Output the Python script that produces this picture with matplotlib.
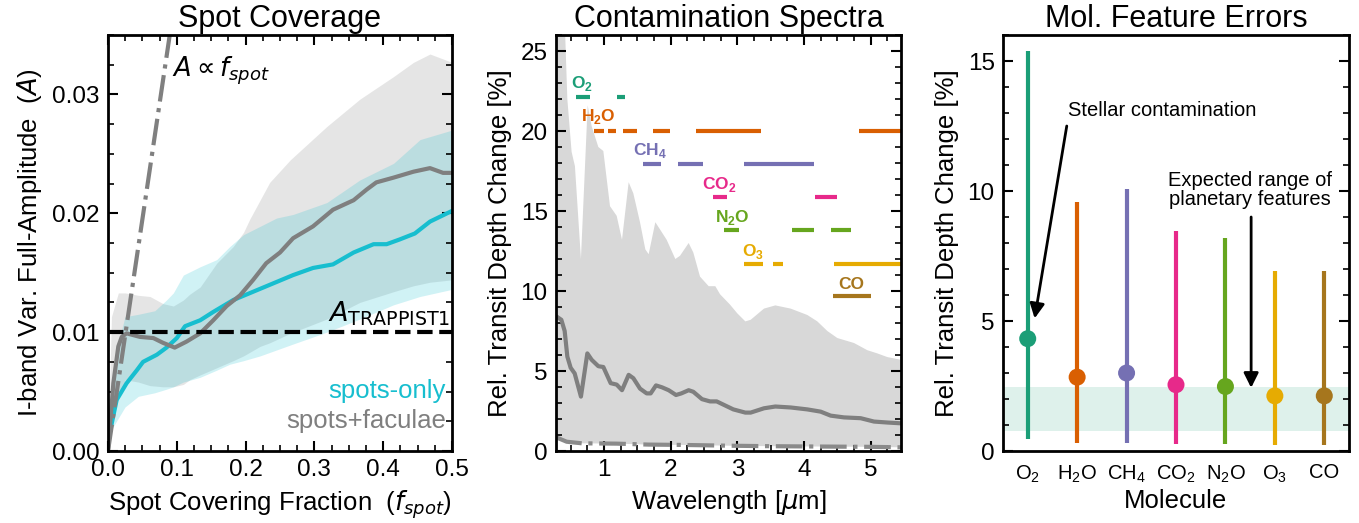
import numpy as np
import matplotlib
matplotlib.use("Agg")
import matplotlib.pyplot as plt
from matplotlib.ticker import MultipleLocator, FormatStrFormatter

plt.rcParams['font.family'] = ['Liberation Sans', 'DejaVu Sans']
plt.rcParams['mathtext.fontset'] = 'dejavusans'

# ---------------- Panel 1 data: Spot coverage ----------------
f_cyan = [0.005, 0.0126, 0.027, 0.042, 0.051, 0.071, 0.085, 0.1, 0.112, 0.134, 0.153,
          0.182, 0.211, 0.24, 0.269, 0.298, 0.327, 0.357, 0.386, 0.405, 0.424, 0.446,
          0.468, 0.5]
A_cyan = [0.0022, 0.0043, 0.0057, 0.0068, 0.0075, 0.0081, 0.0087, 0.0095, 0.0105, 0.011,
          0.0117, 0.0127, 0.0134, 0.0141, 0.0148, 0.0154, 0.0157, 0.0167, 0.0174, 0.0174,
          0.0178, 0.0183, 0.0193, 0.0202]

f_gray = [0.0, 0.0078, 0.015, 0.02, 0.027, 0.0465, 0.066, 0.08, 0.097, 0.114, 0.134, 0.153,
          0.1725, 0.192, 0.211, 0.23, 0.25, 0.269, 0.298, 0.327, 0.357, 0.376, 0.39,
          0.415, 0.444, 0.468, 0.487, 0.5]
A_gray = [0.0, 0.0057, 0.0088, 0.0096, 0.0099, 0.0096, 0.0095, 0.0091, 0.0087, 0.0092,
          0.0099, 0.011, 0.0122, 0.0131, 0.0144, 0.0158, 0.0167, 0.0179, 0.0189, 0.0203,
          0.0211, 0.022, 0.0226, 0.023, 0.0235, 0.0238, 0.0234, 0.0234]

f_cband = [0.005, 0.0102, 0.0247, 0.044, 0.068, 0.085, 0.095, 0.1095, 0.134, 0.158, 0.177,
           0.197, 0.221, 0.245, 0.269, 0.318, 0.366, 0.415, 0.4535, 0.5]
cband_hi = [0.0045, 0.008, 0.0113, 0.0115, 0.0118, 0.0127, 0.0133, 0.0148, 0.0155, 0.0161,
            0.0172, 0.0182, 0.0189, 0.0196, 0.0199, 0.0209, 0.0228, 0.0242, 0.0262, 0.027]
cband_lo = [0.0018, 0.0023, 0.0037, 0.0046, 0.0049, 0.0052, 0.0054, 0.0058, 0.0062, 0.0068,
            0.0073, 0.0076, 0.008, 0.0085, 0.009, 0.01, 0.0111, 0.0123, 0.013, 0.0136]

f_gband = [0.0, 0.005, 0.015, 0.025, 0.044, 0.061, 0.08, 0.095, 0.1095, 0.119, 0.134, 0.158,
           0.182, 0.197, 0.206, 0.221, 0.235, 0.265, 0.318, 0.366, 0.415, 0.444, 0.468, 0.5]
gband_hi = [0.0, 0.0113, 0.0133, 0.0133, 0.0131, 0.013, 0.0124, 0.0122, 0.0127, 0.0132,
            0.0138, 0.0158, 0.0172, 0.0184, 0.0195, 0.0211, 0.0226, 0.0245, 0.0273, 0.0296,
            0.0315, 0.0327, 0.0334, 0.0327]
gband_lo = [0.0, 0.002, 0.0045, 0.006, 0.0058, 0.0055, 0.0054, 0.0054, 0.0056, 0.006,
            0.0064, 0.007, 0.0076, 0.008, 0.0083, 0.0088, 0.0091, 0.0099, 0.0111, 0.0125,
            0.0134, 0.0139, 0.0142, 0.0144]

f_prop = [0.0, 0.1]
A_prop = [0.0, 0.039]
A_trappist = 0.01

# ---------------- Panel 2 data: Contamination spectra ----------------
lam_env = [0.28, 0.41, 0.45, 0.514, 0.564, 0.654, 0.755, 0.815, 0.915, 0.99, 1.09, 1.19,
           1.27, 1.37, 1.44, 1.54, 1.62, 1.67, 1.77, 1.84, 1.94, 2.07, 2.14, 2.27, 2.34,
           2.44, 2.57, 2.67, 2.74, 2.89, 3.0, 3.12, 3.2, 3.4, 3.57, 3.8, 4.05, 4.2, 4.35,
           4.5, 4.75, 4.95, 5.1, 5.25, 5.455]
env_hi = [45, 27, 22, 18.7, 17.8, 12.0, 21.6, 20.3, 19.0, 18.75, 15.3, 14.7, 13.2, 16.8,
          16.1, 14.3, 12.6, 12.3, 14.3, 13.85, 13.2, 12.0, 12.2, 13.0, 12.4, 10.9, 10.3,
          10.3, 9.8, 9.15, 8.6, 8.1, 8.2, 8.9, 9.1, 8.9, 8.5, 8.1, 7.5, 7.06, 6.75, 6.3,
          6.1, 5.87, 5.7]

lam_mean = [0.29, 0.36, 0.41, 0.45, 0.5, 0.56, 0.654, 0.75, 0.815, 0.915, 0.99, 1.1, 1.19,
            1.27, 1.37, 1.44, 1.54, 1.64, 1.7, 1.78, 1.87, 1.97, 2.08, 2.16, 2.27, 2.34,
            2.47, 2.59, 2.69, 2.79, 2.94, 3.12, 3.2, 3.4, 3.57, 3.8, 4.05, 4.25, 4.4, 4.6,
            4.85, 5.05, 5.25, 5.455]
spec_mean = [8.4, 8.2, 7.5, 5.9, 5.2, 4.85, 3.4, 6.1, 5.7, 5.3, 5.25, 4.24, 4.15, 3.8, 4.76,
             4.55, 3.9, 3.6, 3.6, 4.1, 3.98, 3.8, 3.5, 3.6, 3.8, 3.7, 3.24, 3.1, 3.1, 2.9,
             2.6, 2.4, 2.4, 2.67, 2.78, 2.72, 2.6, 2.46, 2.21, 2.1, 2.05, 1.84, 1.78, 1.73]

lam_low = [0.28, 0.44, 0.67, 1.19, 1.67, 2.17, 2.89, 3.5, 4.2, 5.0, 5.455]
spec_low = [0.86, 0.58, 0.48, 0.46, 0.4, 0.38, 0.33, 0.3, 0.28, 0.26, 0.23]

mol_labels = [r'O$_\mathregular{2}$', r'H$_\mathregular{2}$O', r'CH$_\mathregular{4}$',
              r'CO$_\mathregular{2}$', r'N$_\mathregular{2}$O', r'O$_\mathregular{3}$', 'CO']
mol_colors = ['#1b9e77', '#d95f02', '#7570b3', '#e7298a', '#66a61e', '#e6ab02', '#a6761d']
band_levels = [22.1, 20.0, 17.95, 15.9, 13.8, 11.7, 9.66]
band_ranges = [
    [(0.58, 0.79), (1.2, 1.32)],
    [(0.85, 1.0), (1.06, 1.18), (1.28, 1.5), (1.73, 1.99), (2.38, 3.36), (4.82, 5.455)],
    [(1.58, 1.85), (2.11, 2.48), (3.1, 4.15)],
    [(2.63, 2.85), (4.16, 4.5)],
    [(2.8, 3.03), (3.82, 4.15), (4.4, 4.7)],
    [(3.1, 3.39), (3.53, 3.69), (4.45, 5.455)],
    [(4.43, 5.01)],
]
label_x = [0.67, 0.91, 1.69, 2.73, 2.92, 3.23, 4.71]
label_y = [22.67, 20.6, 18.5, 16.4, 14.3, 12.2, 10.1]

# ---------------- Panel 3 data: Molecular feature errors ----------------
err_med = [4.32, 2.84, 3.0, 2.55, 2.48, 2.12, 2.12]
err_lo = [0.45, 0.3, 0.3, 0.27, 0.26, 0.23, 0.23]
err_hi = [15.37, 9.59, 10.07, 8.48, 8.18, 6.92, 6.92]
planet_band = (0.77, 2.48)

# ---------------- Figure ----------------
W, H = 1359, 523
fig = plt.figure(figsize=(W / 100, H / 100), dpi=100)

def px_axes(x0, x1, y0, y1):
    return fig.add_axes([x0 / W, 1 - y1 / H, (x1 - x0) / W, (y1 - y0) / H])

ax1 = px_axes(108, 452, 35, 451)
ax2 = px_axes(556, 901, 35, 451)
ax3 = px_axes(1003, 1349, 35, 451)

TICK = 17.5
LAB = 18.5
TIT = 22

def style(ax):
    for s in ax.spines.values():
        s.set_linewidth(2)
    ax.tick_params(which='both', direction='in', top=True, right=True, labelsize=TICK)
    ax.tick_params(which='major', length=7, width=1.5, pad=6)
    ax.tick_params(which='minor', length=4, width=1.2)

# Panel 1
style(ax1)
ax1.fill_between(f_gband, gband_lo, gband_hi, color='#808080', alpha=0.2, lw=0)
ax1.fill_between(f_cband, cband_lo, cband_hi, color='#17becf', alpha=0.2, lw=0)
ax1.plot(f_cyan, A_cyan, color='#17becf', lw=3)
ax1.plot(f_gray, A_gray, color='#7f7f7f', lw=3)
ax1.plot(f_prop, A_prop, color='#808080', lw=3, ls='-.')
ax1.axhline(A_trappist, color='k', lw=3, ls='--')
ax1.set_xlim(0, 0.5)
ax1.set_ylim(0, 0.035)
ax1.xaxis.set_major_locator(MultipleLocator(0.1))
ax1.xaxis.set_minor_locator(MultipleLocator(0.025))
ax1.yaxis.set_major_locator(MultipleLocator(0.01))
ax1.yaxis.set_minor_locator(MultipleLocator(0.0025))
ax1.xaxis.set_major_formatter(FormatStrFormatter('%.1f'))
ax1.yaxis.set_major_formatter(FormatStrFormatter('%.2f'))
ax1.set_title('Spot Coverage', fontsize=TIT, pad=6)
ax1.set_xlabel(r'Spot Covering Fraction  ($f_{spot}$)', fontsize=LAB, labelpad=5)
ax1.set_ylabel(r'I-band Var. Full-Amplitude  ($A$)', fontsize=LAB, labelpad=6)
ax1.text(0.093, 0.0315, r'$A \propto f_{spot}$', fontsize=LAB, ha='left', va='baseline')
ax1.text(0.497, 0.0109, r'$A_{\mathrm{TRAPPIST1}}$', fontsize=LAB + 1, ha='right', va='baseline')
ax1.text(0.491, 0.00446, 'spots-only', color='#17becf', fontsize=LAB, ha='right', va='baseline')
ax1.text(0.491, 0.00196, 'spots+faculae', color='#7f7f7f', fontsize=LAB, ha='right', va='baseline')

# Panel 2
style(ax2)
ax2.fill(np.r_[lam_env, lam_low[::-1]], np.r_[env_hi, spec_low[::-1]], color='#d8d8d8', lw=0)
ax2.plot(lam_mean, spec_mean, color='#7f7f7f', lw=3)
ax2.plot(lam_low, spec_low, color='#8a8a8a', lw=3, ls='-.')
for lab, col, lev, rngs, lx, ly in zip(mol_labels, mol_colors, band_levels, band_ranges,
                                       label_x, label_y):
    for (a, b) in rngs:
        ax2.plot([a, b], [lev, lev], color=col, lw=3, solid_capstyle='butt')
    ax2.text(lx, ly, lab, color=col, fontsize=12.5, fontweight='bold', ha='center', va='baseline')
ax2.set_xlim(0.28, 5.455)
ax2.set_ylim(0, 26)
ax2.xaxis.set_major_locator(MultipleLocator(1))
ax2.xaxis.set_minor_locator(MultipleLocator(0.25))
ax2.yaxis.set_major_locator(MultipleLocator(5))
ax2.yaxis.set_minor_locator(MultipleLocator(1))
ax2.set_title('Contamination Spectra', fontsize=TIT, pad=6)
ax2.set_xlabel(r'Wavelength [$\mu$m]', fontsize=LAB, labelpad=5)
ax2.set_ylabel('Rel. Transit Depth Change [%]', fontsize=LAB, labelpad=6)

# Panel 3
style(ax3)
xpos = np.arange(len(mol_labels))
ax3.axhspan(planet_band[0], planet_band[1], color='#1b9e77', alpha=0.14, lw=0)
ax3.vlines(xpos, err_lo, err_hi, colors=mol_colors, lw=3)
ax3.scatter(xpos, err_med, s=150, c=mol_colors, zorder=3, edgecolors='none')
ax3.set_xlim(-0.5, 6.5)
ax3.set_ylim(0, 16)
ax3.set_xticks(xpos)
ax3.set_xticklabels(mol_labels, fontsize=14.5)
ax3.tick_params(axis='x', which='both', length=0, top=False, pad=9)
ax3.yaxis.set_major_locator(MultipleLocator(5))
ax3.yaxis.set_minor_locator(MultipleLocator(1))
ax3.set_title('Mol. Feature Errors', fontsize=TIT, pad=6)
ax3.set_xlabel('Molecule', fontsize=LAB, labelpad=3)
ax3.set_ylabel('Rel. Transit Depth Change [%]', fontsize=LAB, labelpad=6)
ax3.text(0.81, 13.1, 'Stellar contamination', fontsize=14.5, ha='left', va='center')
ax3.annotate('', xy=(0.14, 5.1), xytext=(0.79, 12.5),
             arrowprops=dict(arrowstyle='-|>', lw=2, color='k', mutation_scale=22,
                             shrinkA=0, shrinkB=0))
ax3.text(4.5, 10.04, 'Expected range of\nplanetary features', fontsize=14.5, ha='center',
         va='center', multialignment='center', linespacing=1.05)
ax3.annotate('', xy=(4.52, 2.43), xytext=(4.52, 9.0),
             arrowprops=dict(arrowstyle='-|>', lw=2, color='k', mutation_scale=22,
                             shrinkA=0, shrinkB=0))

fig.savefig('out.png', dpi=100)
